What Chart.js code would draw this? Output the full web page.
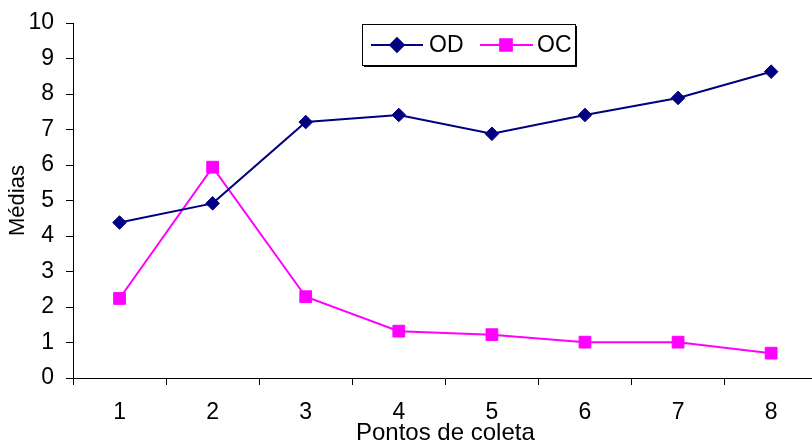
<!DOCTYPE html>
<html>
<head>
<meta charset="utf-8">
<script src="https://cdn.jsdelivr.net/npm/chart.js@4/dist/chart.umd.min.js"></script>
<style>
  html, body { margin: 0; padding: 0; background: #fff; overflow: hidden; width: 812px; height: 445px; }
  #wrap { width: 827px; height: 445px; }
</style>
</head>
<body>
<div id="wrap"><canvas id="c" width="827" height="445"></canvas></div>
<script>
const categories = ['1', '2', '3', '4', '5', '6', '7', '8'];
const odValues = [4.38, 4.92, 7.21, 7.41, 6.88, 7.41, 7.89, 8.63];
const ocValues = [2.24, 5.94, 2.29, 1.32, 1.22, 1.01, 1.01, 0.70];
const yTicks = [0, 1, 2, 3, 4, 5, 6, 7, 8, 9, 10];
const seriesNames = ['OD', 'OC'];
const xTitle = 'Pontos de coleta';
const yTitle = 'Médias';

const FONT = "'Liberation Sans', Arial, sans-serif";

const legendPlugin = {
  id: 'boxLegend',
  afterDraw(chart) {
    const ctx = chart.ctx;
    const x0 = 362, y0 = 24, w = 213, h = 41;
    ctx.save();
    ctx.fillStyle = '#000';
    ctx.fillRect(x0 + 2, y0 + h, w, 2);
    ctx.fillRect(x0 + w, y0 + 2, 2, h);
    ctx.fillStyle = '#fff';
    ctx.fillRect(x0, y0, w, h);
    ctx.strokeStyle = '#000';
    ctx.lineWidth = 1;
    ctx.strokeRect(x0 + 0.5, y0 + 0.5, w, h);
    const items = [
      { lx0: 371, lx1: 423, mx: 397, tx: 429 },
      { lx0: 480, lx1: 533, mx: 506, tx: 537 }
    ];
    const cy = 45;
    chart.data.datasets.forEach((ds, i) => {
      const it = items[i];
      ctx.strokeStyle = ds.borderColor;
      ctx.lineWidth = ds.borderWidth;
      ctx.beginPath();
      ctx.moveTo(it.lx0, cy);
      ctx.lineTo(it.lx1, cy);
      ctx.stroke();
      ctx.fillStyle = ds.pointBackgroundColor;
      ctx.strokeStyle = ds.pointBorderColor;
      Chart.helpers.drawPoint(ctx, { pointStyle: ds.pointStyle, radius: ds.pointRadius, rotation: 0, borderWidth: 1 }, it.mx, cy);
      ctx.fillStyle = '#000';
      ctx.font = '23px ' + FONT;
      ctx.textBaseline = 'middle';
      ctx.textAlign = 'left';
      ctx.fillText(ds.label, it.tx, cy + 1);
    });
    ctx.restore();
  }
};

new Chart(document.getElementById('c'), {
  type: 'line',
  data: {
    labels: categories,
    datasets: [
      {
        label: seriesNames[0],
        data: odValues,
        borderColor: '#000080',
        backgroundColor: '#000080',
        pointBackgroundColor: '#000080',
        pointBorderColor: '#000080',
        borderWidth: 2,
        pointStyle: 'rectRot',
        pointRadius: 6.8,
        pointBorderWidth: 1,
        tension: 0
      },
      {
        label: seriesNames[1],
        data: ocValues,
        borderColor: '#FF00FF',
        backgroundColor: '#FF00FF',
        pointBackgroundColor: '#FF00FF',
        pointBorderColor: '#FF00FF',
        borderWidth: 2,
        pointStyle: 'rect',
        pointRadius: 8.3,
        pointBorderWidth: 1,
        tension: 0
      }
    ]
  },
  options: {
    responsive: false,
    animation: false,
    layout: { padding: { top: 18, right: 0, left: 0, bottom: 0 } },
    plugins: { legend: { display: false }, tooltip: { enabled: false } },
    scales: {
      x: {
        type: 'category',
        offset: true,
        grid: { display: true, offset: true, drawOnChartArea: false, color: '#000', tickLength: 7, tickWidth: 1 },
        border: { display: true, color: '#000', width: 1 },
        ticks: { color: '#000', font: { family: FONT, size: 23 }, padding: 14, maxRotation: 0 },
        title: { display: true, text: xTitle, color: '#000', font: { family: FONT, size: 24, lineHeight: 1 }, padding: { top: 0, bottom: 0 } },
        afterFit(scale) { scale.height = 67; }
      },
      y: {
        min: 0,
        max: 10,
        afterBuildTicks(scale) { scale.ticks = yTicks.map(v => ({ value: v })); },
        grid: { display: true, drawOnChartArea: false, color: '#000', tickLength: 7, tickWidth: 1 },
        border: { display: true, color: '#000', width: 1 },
        ticks: { color: '#000', font: { family: FONT, size: 23, lineHeight: 0.96 }, padding: 12 },
        title: { display: true, text: yTitle, color: '#000', font: { family: FONT, size: 22 }, padding: { top: 5, bottom: 0 } },
        afterFit(scale) { scale.width = 73; }
      }
    }
  },
  plugins: [legendPlugin]
});
</script>
</body>
</html>
